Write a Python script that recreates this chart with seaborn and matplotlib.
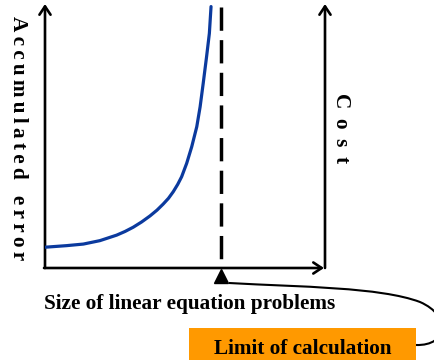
import numpy as np
import pandas as pd
import matplotlib
matplotlib.use('Agg')
import matplotlib.pyplot as plt
from matplotlib.path import Path
from matplotlib.patches import PathPatch, Rectangle
import seaborn as sns

problem_size = [0, 7.7, 13.7, 19.6, 25.6, 28.6, 31.5, 34.5, 37.5, 40.0, 42.2,
                44.1, 45.8, 47.4, 48.8, 50.6, 52.4, 54.2, 55.4, 56.5, 57.7,
                58.7, 59.3]
accum_error = [7.9, 8.5, 9.1, 10.4, 12.5, 13.9, 15.5, 17.5, 19.8, 22.0, 24.3,
               26.5, 29.0, 31.8, 34.7, 39.8, 46.1, 53.7, 61.3, 70.2, 80.3,
               89.2, 99.4]
limit_size = 62.9

x_label = "Size of linear equation problems"
y_label = "Accumulated error"
y2_label = "Cost"
box_label = "Limit of calculation"

sns.set_style('white')
plt.rcParams['font.family'] = ['Liberation Serif', 'DejaVu Sans']
plt.rcParams['font.weight'] = 'bold'
plt.rcParams['text.color'] = 'black'

W, H = 435, 360
fig = plt.figure(figsize=(W / 100, H / 100), dpi=100)

# overlay axis in pixel coords for the decorations
deco = fig.add_axes([0, 0, 1, 1])
deco.set_xlim(0, W)
deco.set_ylim(H, 0)
deco.axis('off')

# plotting area: x 45..325 px, y 268..5 px
ax = fig.add_axes([45 / W, (H - 268) / H, 280 / W, 263 / H])
ax.patch.set_visible(False)
for s in ax.spines.values():
    s.set_visible(False)
ax.set_xticks([])
ax.set_yticks([])
ax.set_xlim(0, 100)
ax.set_ylim(0, 100)

df = pd.DataFrame({'size': problem_size, 'error': accum_error})
sns.lineplot(data=df, x='size', y='error', ax=ax, color='#0b3a9e',
             linewidth=2.3, sort=False, estimator=None)
ax.set_xlabel('')
ax.set_ylabel('')

# limit of calculation
ax.plot([limit_size, limit_size], [99.2, 0], color='black', linewidth=2.5,
        dashes=(6.7, 2.7), clip_on=False)
ax.plot([limit_size], [-3.0], marker='^', color='black', markersize=10.5,
        clip_on=False, linestyle='none')

# axis arrows
arrow = dict(arrowstyle='->,head_length=0.6,head_width=0.4', color='black',
             linewidth=1.9, shrinkA=0, shrinkB=0)
deco.annotate('', xy=(45, 4), xytext=(45, 268), arrowprops=arrow)
deco.annotate('', xy=(325, 4), xytext=(325, 268), arrowprops=arrow)
deco.annotate('', xy=(324, 268), xytext=(44, 268), arrowprops=arrow)

fs = 15.3
deco.text(190, 309, x_label, ha='center', va='baseline', fontsize=fs,
          fontweight='bold')


def spaced(txt, gap):
    return '   '.join(gap.join(list(w)) for w in txt.split())


deco.text(18, 138, spaced(y_label, '\u2009'), rotation=-90, ha='center',
          va='center', fontsize=fs, fontweight='bold')
deco.text(341, 128, spaced(y2_label, ' \u2009'), rotation=-90, ha='center',
          va='center', fontsize=fs, fontweight='bold')

# orange box
deco.add_patch(Rectangle((189, 328), 227, 40, facecolor='#ff9900',
                         edgecolor='none', clip_on=True))
deco.text(302.5, 354, box_label, ha='center', va='baseline', fontsize=fs,
          fontweight='bold')

# connector from the marker to the box
verts = [(229, 283), (300, 287), (380, 287), (420, 302),
         (452, 316), (448, 346), (416, 345)]
codes = [Path.MOVETO, Path.CURVE4, Path.CURVE4, Path.CURVE4,
         Path.CURVE4, Path.CURVE4, Path.CURVE4]
deco.add_patch(PathPatch(Path(verts, codes), facecolor='none',
                         edgecolor='black', linewidth=1.5))

fig.savefig('out.png', dpi=100)
